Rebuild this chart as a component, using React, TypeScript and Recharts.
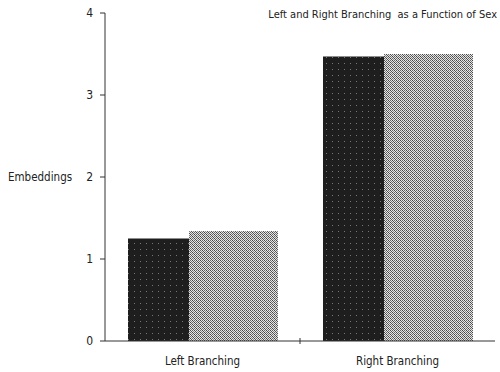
import { BarChart, Bar, XAxis, YAxis } from 'recharts';

const CATEGORIES = ['Left Branching', 'Right Branching'];
const MALE = [1.25, 3.47];
const FEMALE = [1.34, 3.5];
const Y_TICKS = [0, 1, 2, 3, 4];

const data = CATEGORIES.map((name, i) => ({ name, male: MALE[i], female: FEMALE[i] }));

const FONT = '"DejaVu Sans Condensed", "DejaVu Sans", sans-serif';

const XTick = (props: any) => {
    const { x, y, payload, index } = props;
    return (
        <g>
            {index === 0 && (
                <line
                    x1={x + payload.offset}
                    x2={x + payload.offset}
                    y1={y - 11}
                    y2={y - 5}
                    stroke="#333"
                />
            )}
            <text x={x} y={y + 16} textAnchor="middle" fontSize={11.5} fontFamily={FONT} fill="#222">
                {payload.value}
            </text>
        </g>
    );
};

export default function App() {
    return (
        <div style={{ position: 'absolute', left: 0, top: 0, width: 500, height: 372, background: '#fff' }}>
            <div
                style={{
                    position: 'absolute',
                    right: 3,
                    top: 8,
                    fontFamily: FONT,
                    fontSize: 11,
                    color: '#222',
                    whiteSpace: 'pre',
                }}
            >
                {'Left and Right Branching  as a Function of Sex'}
            </div>
            <BarChart
                width={500}
                height={372}
                data={data}
                margin={{ top: 13, right: 5, bottom: 0, left: 0 }}
                barGap={0}
                barCategoryGap={0}
            >
                <defs>
                    <pattern id="dark" width="6" height="6" patternUnits="userSpaceOnUse">
                        <rect width="6" height="6" fill="#1e1e1e" />
                        <rect x="2" y="3" width="1" height="1" fill="#777" />
                    </pattern>
                    <pattern id="stipple" width="4" height="4" patternUnits="userSpaceOnUse">
                        <rect width="4" height="4" fill="#e6e6e6" />
                        <rect x="0" y="0" width="1" height="1" fill="#444" />
                        <rect x="2" y="0" width="1" height="1" fill="#666" />
                        <rect x="1" y="1" width="1" height="1" fill="#555" />
                        <rect x="3" y="1" width="1" height="1" fill="#777" />
                        <rect x="0" y="2" width="1" height="1" fill="#666" />
                        <rect x="2" y="2" width="1" height="1" fill="#444" />
                        <rect x="1" y="3" width="1" height="1" fill="#888" />
                        <rect x="3" y="3" width="1" height="1" fill="#555" />
                    </pattern>
                </defs>
                <XAxis
                    dataKey="name"
                    height={31}
                    axisLine={{ stroke: '#333' }}
                    tickLine={false}
                    tick={<XTick />}
                    padding={{ left: 0, right: 0 }}
                />
                <YAxis
                    width={105}
                    domain={[0, 4]}
                    ticks={Y_TICKS}
                    axisLine={{ stroke: '#333' }}
                    tickLine={{ stroke: '#333' }}
                    tickSize={5}
                    tickMargin={7}
                    tick={{ fontSize: 12, fontFamily: FONT, fill: '#222' }}
                    label={{
                        value: 'Embeddings',
                        position: 'insideLeft',
                        offset: 8,
                        fontSize: 11.5,
                        fontFamily: FONT,
                        fill: '#222',
                    }}
                />
                <Bar dataKey="male" barSize={61} fill="url(#dark)" isAnimationActive={false} />
                <Bar dataKey="female" barSize={89} fill="url(#stipple)" isAnimationActive={false} />
            </BarChart>
        </div>
    );
}
